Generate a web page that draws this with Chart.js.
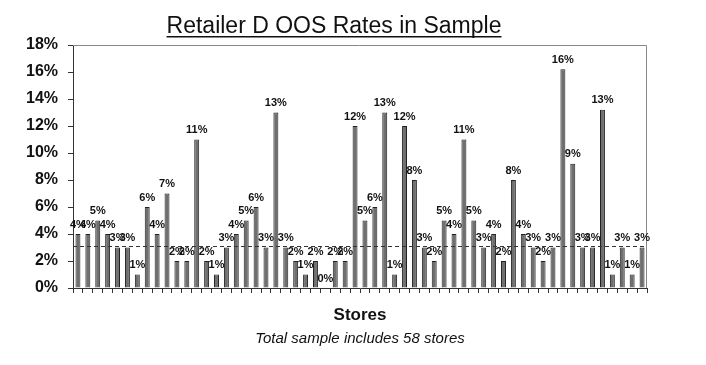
<!DOCTYPE html>
<html>
<head>
<meta charset="utf-8">
<script src="https://cdn.jsdelivr.net/npm/chart.js@4.4.1/dist/chart.umd.min.js"></script>
<style>
	html, body { margin: 0; padding: 0; background: #ffffff; }
	#contenedor { width: 706px; height: 365px; }
</style>
</head>
<body>
<div id="contenedor"><canvas id="idGrafica"></canvas></div>
<script>
// datos
var tiendas = ['1','2','3','4','5','6','7','8','9','10','11','12','13','14','15','16','17','18','19','20',
	'21','22','23','24','25','26','27','28','29','30','31','32','33','34','35','36','37','38','39','40',
	'41','42','43','44','45','46','47','48','49','50','51','52','53','54','55','56','57','58'];
var tasaOOS = [4,4,5,4,3,3,1,6,4,7, 2,2,11,2,1,3,4,5,6,3, 13,3,2,1,2,0,2,2,12,5,
	6,13,1,12,8,3,2,5,4,11, 5,3,4,2,8,4,3,2,3,16.2, 9.2,3,3,13.2,1,3,1,3];
var lineaRef = 3.1;
var ticksY = [0,2,4,6,8,10,12,14,16,18];

var titulo = 'Retailer D OOS Rates in Sample';
var tituloX = 'Stores';
var nota = 'Total sample includes 58 stores';

var fuente = '"Liberation Sans", Arial, sans-serif';

// etiquetas, linea punteada, marco y textos
var pluginExtras = {
	id: 'extras',
	beforeDatasetsDraw: function(chart){
		var ctx = chart.ctx;
		var a = chart.chartArea;
		ctx.save();
		ctx.strokeStyle = '#888888';
		ctx.lineWidth = 1;
		ctx.beginPath();
		ctx.moveTo(a.left, a.top + 0.5);
		ctx.lineTo(a.right - 0.5, a.top + 0.5);
		ctx.lineTo(a.right - 0.5, a.bottom);
		ctx.stroke();
		ctx.restore();
	},
	afterDatasetsDraw: function(chart){
		var ctx = chart.ctx;
		var a = chart.chartArea;
		var y = chart.scales.y.getPixelForValue(lineaRef);
		ctx.save();
		ctx.strokeStyle = '#333333';
		ctx.lineWidth = 1;
		ctx.setLineDash([4, 3]);
		ctx.beginPath();
		ctx.moveTo(a.left, Math.round(y) + 0.5);
		ctx.lineTo(a.right, Math.round(y) + 0.5);
		ctx.stroke();
		ctx.setLineDash([]);

		ctx.fillStyle = '#111111';
		ctx.font = 'bold 11px ' + fuente;
		ctx.textAlign = 'center';
		ctx.textBaseline = 'bottom';
		var meta = chart.getDatasetMeta(0);
		for (let i in meta.data){
			let barra = meta.data[i];
			ctx.fillText(Math.round(tasaOOS[i]) + '%', barra.x, barra.y - 4);
		}

		// titulo subrayado
		ctx.font = '23px ' + fuente;
		ctx.textBaseline = 'alphabetic';
		ctx.fillStyle = '#111111';
		var cx = 334;
		ctx.fillText(titulo, cx, 33);
		var w = ctx.measureText(titulo).width;
		ctx.fillRect(cx - w / 2, 36, w, 1.5);

		// nota
		ctx.font = 'italic 15px ' + fuente;
		ctx.fillText(nota, (a.left + a.right) / 2, 343);
		ctx.restore();
	}
};

var ctx = document.getElementById('idGrafica').getContext('2d');
var myChart = new Chart(ctx, {
	type: 'bar',
	data: {
		labels: tiendas,
		datasets: [
			{
				label: 'OOS',
				data: tasaOOS,
				backgroundColor: '#6f6f6f',
				borderColor: '#222222',
				borderWidth: 1,
				barPercentage: 0.5,
				categoryPercentage: 1
			}
		]
	},
	options: {
		responsive: true,
		maintainAspectRatio: false,
		animation: false,
		layout: { padding: { top: 45, right: 59, bottom: 39, left: 0 } },
		plugins: {
			legend: { display: false },
			tooltip: { enabled: false }
		},
		scales: {
			x: {
				grid: { display: true, drawOnChartArea: false, offset: true, tickLength: 5, color: '#333333' },
				border: { display: true, color: '#333333' },
				ticks: { display: false },
				title: {
					display: true,
					text: tituloX,
					color: '#111111',
					font: { family: fuente, size: 17, weight: 'bold' },
					padding: { top: 0, bottom: 0 }
				},
				afterFit: function(scale){ scale.height = 38; }
			},
			y: {
				min: 0,
				max: 18,
				afterBuildTicks: function(scale){
					scale.ticks = ticksY.map(function(v){ return { value: v }; });
				},
				grid: { display: true, drawOnChartArea: false, tickLength: 5, color: '#333333' },
				border: { display: true, color: '#333333' },
				ticks: {
					color: '#111111',
					padding: 10,
					font: { family: fuente, size: 16, weight: 'bold' },
					callback: function(v){ return v + '%'; }
				},
				afterFit: function(scale){ scale.width = 73; }
			}
		}
	},
	plugins: [pluginExtras]
});
</script>
</body>
</html>
